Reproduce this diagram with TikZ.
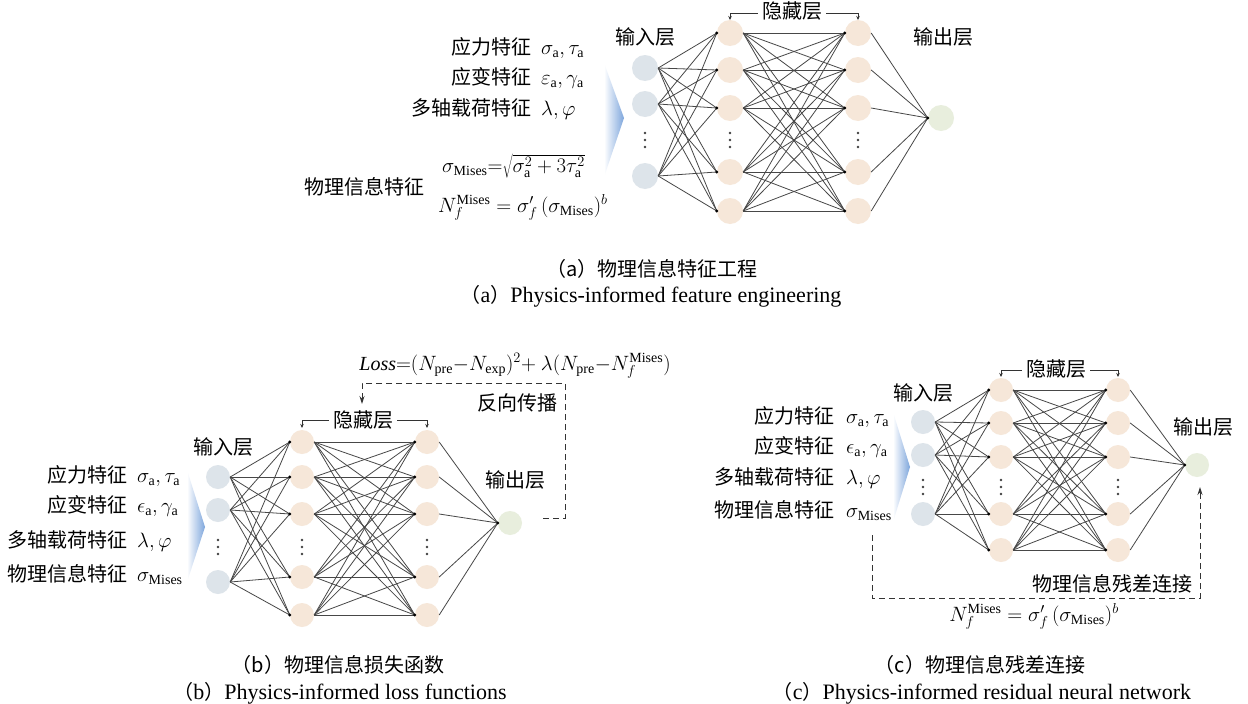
\documentclass[tikz,border=0pt]{standalone}
\usepackage{fontspec}
\setmainfont{Liberation Serif}
\newfontfamily\cjk{Noto Sans CJK SC}
\usetikzlibrary{arrows.meta}
\definecolor{inblue}{HTML}{DDE4EA}
\definecolor{hidpeach}{HTML}{F6E7D9}
\definecolor{outgreen}{HTML}{E8EEDD}
\definecolor{triblue}{HTML}{7EA6DC}
\def\noderad{26pt}
\newcommand\drawnet[9]{%
  \foreach \yy [count=\k] in {#6} { \node[innode] (#1-i\k) at (#2,\yy) {}; }
  \foreach \yy [count=\k] in {#8} { \node[hidnode] (#1-h\k) at (#3,\yy) {}; \node[hidnode] (#1-g\k) at (#4,\yy) {}; }
  \node[outnode] (#1-o) at #5 {};
  \foreach \d in {-7,0,7} { \fill[black!75] (#2,#7+\d) circle (1.3pt); \fill[black!75] (#3,#9+\d) circle (1.3pt); \fill[black!75] (#4,#9+\d) circle (1.3pt); }
  \foreach \a in {1,2,3} { \foreach \b in {1,...,5} { \draw[conn] (#1-i\a.east) -- (#1-h\b.west); } }
  \foreach \a in {1,...,5} { \foreach \b in {1,...,5} { \draw[conn] (#1-h\a.east) -- (#1-g\b.west); } }
  \foreach \a in {1,...,5} { \draw[conn] (#1-g\a.east) -- (#1-o.west); }
  \foreach \b in {1,...,5} { \fill (#1-h\b.west) circle (1.6pt); \fill (#1-g\b.west) circle (1.6pt); }
  \fill (#1-o.west) circle (1.6pt);
}
\begin{document}
\begin{tikzpicture}[x=1pt,y=-1pt,
  innode/.style={circle,fill=inblue,minimum size=\noderad,inner sep=0pt},
  hidnode/.style={circle,fill=hidpeach,minimum size=\noderad,inner sep=0pt},
  outnode/.style={circle,fill=outgreen,minimum size=\noderad,inner sep=0pt},
  conn/.style={draw=black!72,line width=0.8pt},
  cjklab/.style={font=\cjk\fontsize{20}{24}\selectfont,inner sep=0pt},
  mathlab/.style={font=\fontsize{20}{24}\selectfont,inner sep=0pt},
  caplab/.style={font=\fontsize{22}{26}\selectfont,inner sep=0pt},
  brk/.style={draw=black!80,line width=0.8pt},
  brkarrow/.style={draw=black!80,line width=0.8pt,-{Stealth[length=4pt,width=3.5pt]}},
  dashline/.style={draw=black!80,line width=0.9pt,dash pattern=on 6pt off 4pt,-{Stealth[length=8pt,width=5pt]}}
]
\useasboundingbox[fill=white] (0,0) rectangle (1248,704);

% ================= (a) =================
\shade[left color=white,right color=triblue] (604,63) -- (624,118) -- (604,177) -- cycle;
\def\noderad{26pt}
\drawnet{a}{645}{730}{858}{(941,118)}{68,104,176}{140}{33,70,108,172,211}{140}
\node[cjklab,anchor=base] (a-in) at (645,44) {输入层};
\node[cjklab,anchor=base] (a-out) at (943,44) {输出层};
\node[cjklab,anchor=base,inner sep=4pt] (a-hl) at (792,19) {隐藏层};
\coordinate (a-bl0) at (730,13); \coordinate (a-bl1) at (730,20);
\coordinate (a-br0) at (858,13); \coordinate (a-br1) at (858,20);
\draw[brk] (a-hl.west |- a-bl0) -- (a-bl0);
\draw[brkarrow] (a-bl0) -- (a-bl1);
\draw[brk] (a-hl.east |- a-br0) -- (a-br0);
\draw[brkarrow] (a-br0) -- (a-br1);

\node[cjklab,anchor=base east] (a-l1) at (532,54) {应力特征};
\node[mathlab,anchor=base west] (a-m1) at (541,54) {$\sigma_{\mathrm a}, \tau_{\mathrm a}$};
\node[cjklab,anchor=base east] (a-l2) at (532,84) {应变特征};
\node[mathlab,anchor=base west] (a-m2) at (541,84) {$\varepsilon_{\mathrm a}, \gamma_{\mathrm a}$};
\node[cjklab,anchor=base east] (a-l3) at (532,115) {多轴载荷特征};
\node[mathlab,anchor=base west] (a-m3) at (541,115) {$\lambda, \varphi$};
\node[cjklab,anchor=base east] (a-l4) at (425,194) {物理信息特征};
\node[mathlab,anchor=base west] (a-m4) at (442,172) {$\sigma_{\mathrm{Mises}}{=}\sqrt{\sigma_{\mathrm a}^2+3\tau_{\mathrm a}^2}$};
\node[mathlab,anchor=base west] (a-m5) at (438,212) {$N_f^{\mathrm{Mises}}=\sigma_f'\,(\sigma_{\mathrm{Mises}})^b$};

\node[cjklab,anchor=base] (a-cap1) at (652,276) {（a）物理信息特征工程};
\node[caplab,anchor=base] (a-cap2) at (651,302) {{\cjk\fontsize{20}{24}\selectfont（}a{\cjk\fontsize{20}{24}\selectfont）}Physics-informed feature engineering};

% ================= (b) =================
\shade[left color=white,right color=triblue] (187,470) -- (205,527) -- (187,582) -- cycle;
\def\noderad{24pt}
\drawnet{b}{218}{302}{427}{(510,523)}{477,510,582}{547}{442,477,514,577,615}{547}
\node[cjklab,anchor=base] (b-in) at (223,454) {输入层};
\node[cjklab,anchor=base] (b-out) at (515,487) {输出层};
\node[cjklab,anchor=base,inner sep=4pt] (b-hl) at (363,427) {隐藏层};
\coordinate (b-bl0) at (302,420); \coordinate (b-bl1) at (302,428);
\coordinate (b-br0) at (427,420); \coordinate (b-br1) at (427,428);
\draw[brk] (b-hl.west |- b-bl0) -- (b-bl0);
\draw[brkarrow] (b-bl0) -- (b-bl1);
\draw[brk] (b-hl.east |- b-br0) -- (b-br0);
\draw[brkarrow] (b-br0) -- (b-br1);

\node[cjklab,anchor=base east] (b-l1) at (128,482) {应力特征};
\node[mathlab,anchor=base west] (b-m1) at (137,482) {$\sigma_{\mathrm a}, \tau_{\mathrm a}$};
\node[cjklab,anchor=base east] (b-l2) at (128,512) {应变特征};
\node[mathlab,anchor=base west] (b-m2) at (137,512) {$\epsilon_{\mathrm a}, \gamma_{\mathrm a}$};
\node[cjklab,anchor=base east] (b-l3) at (128,547) {多轴载荷特征};
\node[mathlab,anchor=base west] (b-m3) at (137,547) {$\lambda, \varphi$};
\node[cjklab,anchor=base east] (b-l4) at (128,581) {物理信息特征};
\node[mathlab,anchor=base west] (b-m4) at (137,581) {$\sigma_{\mathrm{Mises}}$};

\node[mathlab,anchor=base] (b-loss) at (515,370) {$\mathit{Loss}{=}(N_{\mathrm{pre}}{-}N_{\mathrm{exp}})^2{+}\ \lambda(N_{\mathrm{pre}}{-}N_f^{\mathrm{Mises}})$};
\node[cjklab,anchor=base east] (b-bp) at (558,410) {反向传播};
\coordinate (b-bp0) at (543,518);
\coordinate (b-bp1) at (565,383);
\coordinate (b-bp2) at (362,404);
\draw[dashline] (b-bp0) -| (b-bp1) -| (b-bp2);

\node[cjklab,anchor=base] (b-cap1) at (338,672) {（b）物理信息损失函数};
\node[caplab,anchor=base] (b-cap2) at (340,699) {{\cjk\fontsize{20}{24}\selectfont（}b{\cjk\fontsize{20}{24}\selectfont）}Physics-informed loss functions};

% ================= (c) =================
\shade[left color=white,right color=triblue] (893,412) -- (910,467) -- (893,522) -- cycle;
\def\noderad{24pt}
\drawnet{c}{923}{1001}{1118}{(1197,465)}{422,455,514}{487}{390,423,457,514,550}{487}
\node[cjklab,anchor=base] (c-in) at (923,400) {输入层};
\node[cjklab,anchor=base] (c-out) at (1203,434) {输出层};
\node[cjklab,anchor=base,inner sep=4pt] (c-hl) at (1056,376) {隐藏层};
\coordinate (c-bl0) at (1001,370); \coordinate (c-bl1) at (1001,377);
\coordinate (c-br0) at (1118,370); \coordinate (c-br1) at (1118,377);
\draw[brk] (c-hl.west |- c-bl0) -- (c-bl0);
\draw[brkarrow] (c-bl0) -- (c-bl1);
\draw[brk] (c-hl.east |- c-br0) -- (c-br0);
\draw[brkarrow] (c-br0) -- (c-br1);

\node[cjklab,anchor=base east] (c-l1) at (835,423) {应力特征};
\node[mathlab,anchor=base west] (c-m1) at (846,423) {$\sigma_{\mathrm a}, \tau_{\mathrm a}$};
\node[cjklab,anchor=base east] (c-l2) at (835,453) {应变特征};
\node[mathlab,anchor=base west] (c-m2) at (846,453) {$\epsilon_{\mathrm a}, \gamma_{\mathrm a}$};
\node[cjklab,anchor=base east] (c-l3) at (835,484) {多轴载荷特征};
\node[mathlab,anchor=base west] (c-m3) at (846,484) {$\lambda, \varphi$};
\node[cjklab,anchor=base east] (c-l4) at (835,517) {物理信息特征};
\node[mathlab,anchor=base west] (c-m4) at (846,517) {$\sigma_{\mathrm{Mises}}$};

\coordinate (c-r0) at (872,535);
\coordinate (c-rm) at (1200,598);
\coordinate (c-r1) at (1200,487);
\draw[dashline] (c-r0) |- (c-rm) -- (c-r1);
\node[cjklab,anchor=base] (c-rl) at (1112,591) {物理信息残差连接};
\node[mathlab,anchor=base] (c-m5) at (1034,621) {$N_f^{\mathrm{Mises}}=\sigma_f'\,(\sigma_{\mathrm{Mises}})^b$};

\node[cjklab,anchor=base] (c-cap1) at (980,672) {（c）物理信息残差连接};
\node[caplab,anchor=base] (c-cap2) at (982,699) {{\cjk\fontsize{20}{24}\selectfont（}c{\cjk\fontsize{20}{24}\selectfont）}Physics-informed residual neural network};
\end{tikzpicture}
\end{document}
